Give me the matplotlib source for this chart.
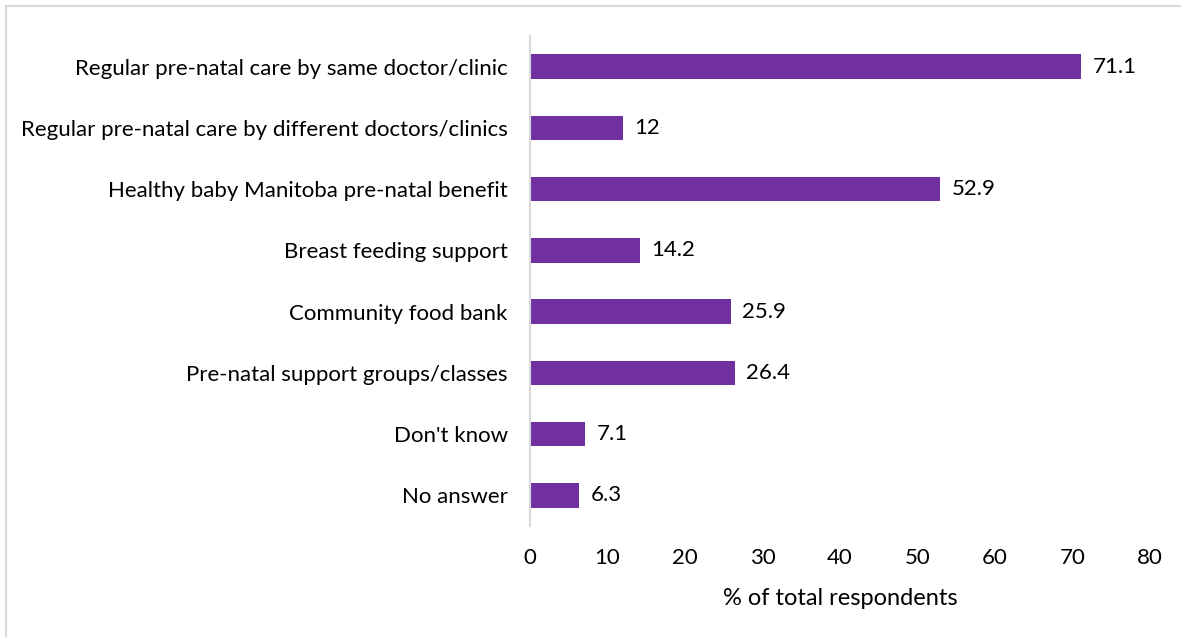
import matplotlib
matplotlib.use('Agg')
import matplotlib.pyplot as plt
from matplotlib.patches import Rectangle

# Data
categories = ['Regular pre-natal care by same doctor/clinic',
              'Regular pre-natal care by different doctors/clinics',
              'Healthy baby Manitoba pre-natal benefit',
              'Breast feeding support',
              'Community food bank',
              'Pre-natal support groups/classes',
              "Don't know",
              'No answer']
values = [71.1, 12, 52.9, 14.2, 25.9, 26.4, 7.1, 6.3]
value_labels = ['71.1', '12', '52.9', '14.2', '25.9', '26.4', '7.1', '6.3']
x_ticks = [0, 10, 20, 30, 40, 50, 60, 70, 80]

plt.rcParams['font.family'] = ['Lato', 'DejaVu Sans']
fs = 16

fig = plt.figure(figsize=(11.81, 6.37), dpi=100)
ax = fig.add_axes([530 / 1181, 1 - 526 / 637, 620 / 1181, 490 / 637])

# light grey frame round the chart area
fig.patches.append(Rectangle((6 / 1181, -0.1), 1.2, 1.1 - 6 / 637,
                             transform=fig.transFigure, fill=False,
                             edgecolor='#d9d9d9', linewidth=1.5))

y = list(range(len(categories)))
ax.barh(y, values, height=0.4, color='#7030A0')
for yi, v, lab in zip(y, values, value_labels):
    ax.text(v + 1.5, yi, lab, va='center', ha='left', fontsize=fs, color='black')

ax.set_yticks(y)
ax.set_yticklabels(categories, fontsize=fs)
ax.set_ylim(len(categories) - 0.5, -0.5)
ax.set_xlim(0, 80)
ax.set_xticks(x_ticks)
ax.set_xticklabels([str(t) for t in x_ticks], fontsize=fs)
ax.set_xlabel('% of total respondents', fontsize=fs + 1, labelpad=14)

for s in ['top', 'right', 'bottom']:
    ax.spines[s].set_visible(False)
ax.spines['left'].set_color('#d9d9d9')
ax.spines['left'].set_linewidth(1.5)
ax.tick_params(axis='x', length=0, pad=16)
ax.tick_params(axis='y', length=0, pad=16)

fig.savefig('out.png', dpi=100)
